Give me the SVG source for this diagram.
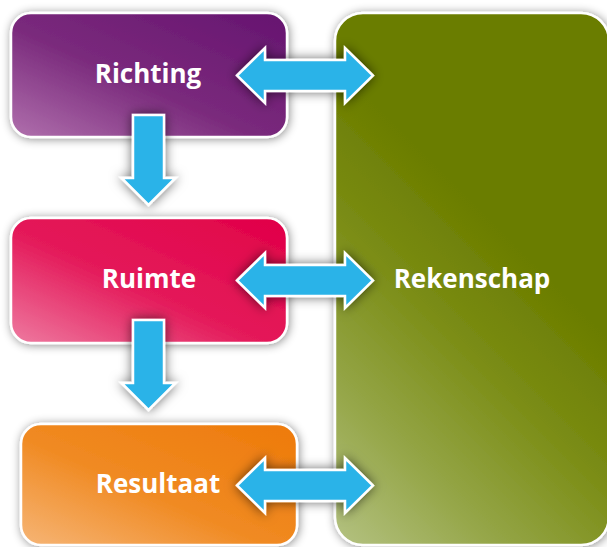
<svg xmlns="http://www.w3.org/2000/svg" width="607" height="547" viewBox="0 0 607 547">
  <defs>
    <filter id="boxShadow" x="-20%" y="-20%" width="140%" height="140%">
      <feDropShadow dx="1" dy="1" stdDeviation="5" flood-color="#000" flood-opacity="0.45"/>
    </filter>
    <filter id="arrowShadow" x="-30%" y="-30%" width="160%" height="160%">
      <feDropShadow dx="0" dy="0" stdDeviation="6" flood-color="#000" flood-opacity="0.6"/>
    </filter>
    <linearGradient id="gPurple" x1="0" y1="1" x2="1" y2="0">
      <stop offset="0" stop-color="#b070ad"/>
      <stop offset="0.45" stop-color="#7a2a7c"/>
      <stop offset="1" stop-color="#661470"/>
    </linearGradient>
    <linearGradient id="gRed" x1="0" y1="1" x2="1" y2="0">
      <stop offset="0" stop-color="#ee7aa0"/>
      <stop offset="0.45" stop-color="#e41a5a"/>
      <stop offset="1" stop-color="#e10048"/>
    </linearGradient>
    <linearGradient id="gOrange" x1="0" y1="1" x2="1" y2="0">
      <stop offset="0" stop-color="#f6b576"/>
      <stop offset="0.45" stop-color="#f08a22"/>
      <stop offset="1" stop-color="#ee7a0a"/>
    </linearGradient>
    <linearGradient id="gGreen" gradientUnits="userSpaceOnUse" x1="335" y1="545" x2="575" y2="305">
      <stop offset="0" stop-color="#b4c282"/>
      <stop offset="0.35" stop-color="#94a546"/>
      <stop offset="0.7" stop-color="#7a8c14"/>
      <stop offset="1" stop-color="#6b7d00"/>
    </linearGradient>
  </defs>
  <style>
    .box { stroke: #ffffff; stroke-width: 2.5; filter: url(#boxShadow); }
    .label { font-family: "Open Sans", "Noto Sans", "Liberation Sans", sans-serif; font-weight: bold; font-size: 26px; fill: #ffffff; text-anchor: middle; }
    .arrow { fill: #2bb3e8; stroke: #ffffff; stroke-width: 2.5; stroke-linejoin: miter; filter: url(#arrowShadow); }
  </style>

  <g id="rekenschap">
    <rect class="box" x="335" y="13" width="274" height="532" rx="28" fill="url(#gGreen)"/>
    <text class="label" x="472" y="288">Rekenschap</text>
  </g>
  <g id="richting">
    <rect class="box" x="11" y="13" width="276" height="124" rx="20" fill="url(#gPurple)"/>
    <text class="label" x="148" y="83">Richting</text>
  </g>
  <g id="ruimte">
    <rect class="box" x="11" y="218" width="276" height="125" rx="20" fill="url(#gRed)"/>
    <text class="label" x="149" y="288">Ruimte</text>
  </g>
  <g id="resultaat">
    <rect class="box" x="21" y="424" width="276" height="121" rx="20" fill="url(#gOrange)"/>
    <text class="label" x="158" y="493">Resultaat</text>
  </g>

  <g id="connectors">
    <path class="arrow" d="M133,115 H164 V178 H175.5 L148.5,205 L121.5,178 H133 Z"/>
    <path class="arrow" d="M133,320 H164 V383 H175.5 L148.5,410 L121.5,383 H133 Z"/>
    <path class="arrow" d="M237,75.5 L265,48 V60 H345 V48 L373,75.5 L345,103 V91 H265 V103 Z"/>
    <path class="arrow" d="M237,280.5 L265,253 V265 H345 V253 L373,280.5 L345,308 V296 H265 V308 Z"/>
    <path class="arrow" d="M237,485.5 L265,458 V470 H345 V458 L373,485.5 L345,513 V501 H265 V513 Z"/>
  </g>
</svg>
